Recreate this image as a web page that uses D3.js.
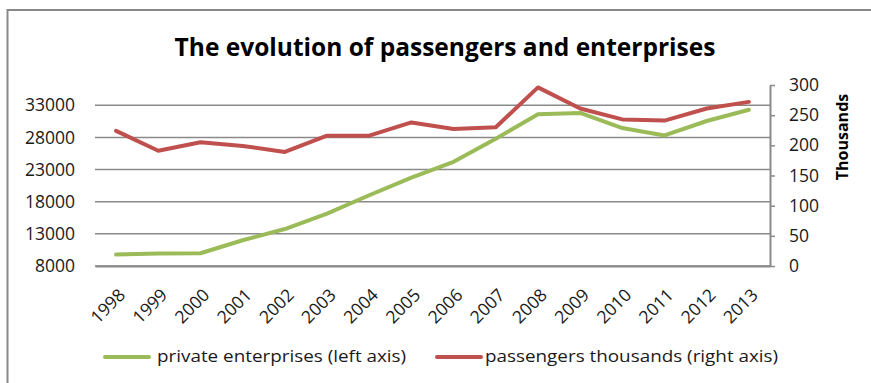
<!DOCTYPE html>
<html>
<head>
<meta charset="utf-8">
<script src="https://cdn.jsdelivr.net/npm/d3@7"></script>
<style>
  body { margin: 0; background: #fff; }
  svg { display: block; }
  text { font-family: "Open Sans", sans-serif; fill: #1a1a1a; }
</style>
</head>
<body>
<svg width="871" height="383"></svg>
<script>
// **** Data ****

var years = ['1998','1999','2000','2001','2002','2003','2004','2005',
             '2006','2007','2008','2009','2010','2011','2012','2013'];

// private enterprises, left axis
var enterprises = [9770, 9930, 9980, 12000, 13750, 16150, 19000, 21750,
                   24200, 27800, 31600, 31800, 29450, 28300, 30550, 32300];

// passengers in thousands, right axis
var passengers = [224, 191, 205, 199, 189, 216, 216, 238,
                  227, 230, 296, 261, 243, 241, 261, 272];

var leftTicks = [8000, 13000, 18000, 23000, 28000, 33000];
var rightTicks = [0, 50, 100, 150, 200, 250, 300];

// **** Scales ****

var plotLeft = 95, plotRight = 770, plotTop = 85, plotBottom = 266;

var xScale = d3.scaleBand()
    .domain(years).range([plotLeft, plotRight]);

var leftScale = d3.scaleLinear()
    .domain([8000, 36150]).range([plotBottom, plotTop]);

var rightScale = d3.scaleLinear()
    .domain([0, 300]).range([plotBottom, plotTop]);

function xMid(d) {
    return xScale(d) + xScale.bandwidth() / 2;
}

var svg = d3.select('svg');

// chart border (only left and top show in the picture)
svg.append('path')
    .attr('d', 'M7.5,383 V10 H871')
    .attr('fill', 'none')
    .attr('stroke', '#888')
    .attr('stroke-width', 2);

// title
svg.append('text')
    .attr('x', 445)
    .attr('y', 56)
    .attr('text-anchor', 'middle')
    .style('font-size', '24.5px')
    .style('font-weight', 'bold')
    .style('fill', '#000')
    .text('The evolution of passengers and enterprises');

// gridlines (left axis)
svg.append('g').attr('class', 'grid')
    .selectAll('line')
    .data(leftTicks)
    .enter()
    .append('line')
    .attr('x1', plotLeft)
    .attr('x2', plotRight)
    .attr('y1', function(d) { return leftScale(d); })
    .attr('y2', function(d) { return leftScale(d); })
    .attr('stroke', '#8a8a8a')
    .attr('stroke-width', 1.5);

// left axis: labels only
var leftAxis = svg.append('g')
    .attr('transform', 'translate(' + plotLeft + ',0)')
    .call(d3.axisLeft(leftScale).tickValues(leftTicks).tickSize(0).tickPadding(20)
        .tickFormat(function(d) { return d; }));
leftAxis.select('.domain').remove();
leftAxis.selectAll('text').style('font-size', '17.5px').style('fill', '#1a1a1a');

// right axis
var rightAxis = svg.append('g')
    .attr('transform', 'translate(' + plotRight + ',0)')
    .call(d3.axisRight(rightScale).tickValues(rightTicks).tickSizeInner(5).tickSizeOuter(0).tickPadding(14));
rightAxis.select('.domain').attr('stroke', '#8a8a8a').attr('stroke-width', 2);
rightAxis.selectAll('line').attr('stroke', '#8a8a8a').attr('stroke-width', 1.5);
rightAxis.selectAll('text').style('font-size', '17.5px').style('fill', '#1a1a1a');

svg.append('text')
    .attr('transform', 'translate(848,137) rotate(-90)')
    .attr('text-anchor', 'middle')
    .style('font-size', '16px')
    .style('font-weight', 'bold')
    .style('fill', '#000')
    .text('Thousands');

// bottom axis
var xAxis = svg.append('g')
    .attr('transform', 'translate(0,' + plotBottom + ')')
    .call(d3.axisBottom(xScale).tickSize(0).tickSizeOuter(0));
xAxis.select('.domain').attr('stroke', '#8a8a8a').attr('stroke-width', 2);
xAxis.selectAll('text')
    .style('font-size', '17.5px')
    .style('fill', '#1a1a1a')
    .attr('text-anchor', 'end')
    .attr('dy', '0')
    .attr('transform', 'translate(8,28) rotate(-45)');

// **** Lines ****

var lineLeft = d3.line()
    .x(function(d, i) { return xMid(years[i]); })
    .y(function(d) { return leftScale(d); });

var lineRight = d3.line()
    .x(function(d, i) { return xMid(years[i]); })
    .y(function(d) { return rightScale(d); });

svg.append('path')
    .datum(enterprises)
    .attr('d', lineLeft)
    .attr('fill', 'none')
    .attr('stroke', '#9bbb59')
    .attr('stroke-width', 4)
    .attr('stroke-linejoin', 'round')
    .attr('stroke-linecap', 'round');

svg.append('path')
    .datum(passengers)
    .attr('d', lineRight)
    .attr('fill', 'none')
    .attr('stroke', '#c0504d')
    .attr('stroke-width', 4)
    .attr('stroke-linejoin', 'round')
    .attr('stroke-linecap', 'round');

// **** Legend ****

var legendItems = [
    { label: 'private enterprises (left axis)', color: '#9bbb59', x: 105, tx: 157 },
    { label: 'passengers thousands (right axis)', color: '#c0504d', x: 437, tx: 485 }
];

var legend = svg.selectAll('.legend')
    .data(legendItems)
    .enter()
    .append('g')
    .attr('class', 'legend');

legend.append('line')
    .attr('x1', function(d) { return d.x; })
    .attr('x2', function(d) { return d.x + 44; })
    .attr('y1', 357)
    .attr('y2', 357)
    .attr('stroke', function(d) { return d.color; })
    .attr('stroke-width', 4)
    .attr('stroke-linecap', 'round');

// Calibri-like narrow face is stretched in the picture: widen with scaleX
legend.append('text')
    .attr('transform', function(d) { return 'translate(' + d.tx + ',362) scale(1.11,1)'; })
    .style('font-size', '17px')
    .text(function(d) { return d.label; });
</script>
</body>
</html>
